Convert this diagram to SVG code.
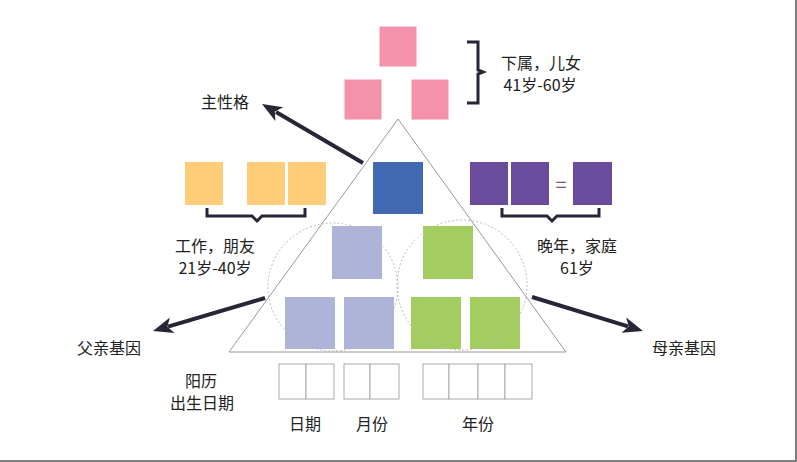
<svg xmlns="http://www.w3.org/2000/svg" width="797" height="462" viewBox="0 0 797 462">
<style>
.t{font-family:"Noto Sans CJK SC","Liberation Sans",sans-serif;font-size:16px;fill:#222;text-anchor:middle;dominant-baseline:central}
.pink{fill:#F392AA;stroke:#fff;stroke-width:1}
.yel{fill:#FFCD7A}
.pur{fill:#6A4C9C}
.lav{fill:#AEB4D8}
.grn{fill:#A3CD60}
.box{fill:#fff;stroke:#aaa;stroke-width:1}
.br{fill:none;stroke:#262636;stroke-width:3}
.arr{stroke:#262636;stroke-width:4;fill:none}
.head{fill:#262636}
</style>
<rect width="797" height="462" fill="#fff"/>
<path d="M796,0 V461 H0" fill="none" stroke="#555" stroke-width="1.5"/>

<g id="triangle"><path d="M398,119 L229,352 L566,352 Z" fill="none" stroke="#999" stroke-width="1"/></g>

<g id="pink">
<rect class="pink" x="379" y="26" width="38" height="41"/>
<rect class="pink" x="344" y="79" width="38" height="41"/>
<rect class="pink" x="411" y="79" width="38" height="41"/>
</g>
<g id="brace-top"><path class="br" d="M467,42 H478 V70 L483,72 L478,74 V103 H467"/></g>
<g id="label-top">
<text class="t" x="541" y="62">下属，儿女</text>
<text class="t" x="540" y="84">41岁-60岁</text>
</g>
<g id="label-main"><text class="t" x="225" y="101">主性格</text></g>

<g id="yellow">
<rect class="yel" x="185" y="162" width="38" height="43"/>
<rect class="yel" x="247" y="162" width="38" height="43"/>
<rect class="yel" x="288" y="162" width="38" height="43"/>
</g>
<g id="blue"><rect x="373" y="162" width="50" height="52" fill="#4169B1"/></g>
<g id="purple">
<rect class="pur" x="470" y="162" width="38" height="43"/>
<rect class="pur" x="511" y="162" width="38" height="43"/>
<text class="t" x="561" y="183" style="fill:#666;font-size:20px">=</text>
<rect class="pur" x="573" y="162" width="39" height="43"/>
</g>
<g id="brace-left"><path class="br" d="M207,208 V216 H252 L257,221 L262,216 H305 V208"/></g>
<g id="brace-right"><path class="br" d="M502,208 V216 H547 L552,221 L557,216 H599 V208"/></g>
<g id="label-left">
<text class="t" x="215" y="245">工作，朋友</text>
<text class="t" x="215" y="267">21岁-40岁</text>
</g>
<g id="label-right">
<text class="t" x="577" y="245">晚年，家庭</text>
<text class="t" x="577" y="267">61岁</text>
</g>

<g id="lavender">
<rect class="lav" x="332" y="226" width="50" height="53"/>
<rect class="lav" x="285" y="297" width="50" height="52"/>
<rect class="lav" x="344" y="297" width="50" height="52"/>
</g>
<g id="green">
<rect class="grn" x="423" y="226" width="50" height="53"/>
<rect class="grn" x="411" y="297" width="50" height="52"/>
<rect class="grn" x="470" y="297" width="50" height="52"/>
</g>
<g id="circles" fill="none" stroke="#bbb" stroke-width="1" stroke-dasharray="2,2">
<ellipse cx="333" cy="287" rx="65" ry="64"/>
<ellipse cx="462" cy="285" rx="65" ry="65"/>
</g>

<g id="connectors">
<line class="arr" x1="363" y1="163" x2="276" y2="112"/>
<polygon class="head" points="262,104 283.3,107.2 274.9,111.6 275.3,121"/>
<line class="arr" x1="265" y1="298" x2="168" y2="326.6"/>
<polygon class="head" points="153,331 169.9,317.6 167.4,326.8 174.5,333"/>
<line class="arr" x1="532" y1="297" x2="628" y2="326.4"/>
<polygon class="head" points="643,331 626.2,317.5 628.7,326.6 621.5,332.8"/>
</g>
<g id="label-father"><text class="t" x="109" y="347">父亲基因</text></g>
<g id="label-mother"><text class="t" x="684" y="347">母亲基因</text></g>

<g id="boxes">
<rect class="box" x="279" y="364" width="27" height="35"/>
<rect class="box" x="306" y="364" width="28" height="35"/>
<rect class="box" x="344" y="364" width="26" height="35"/>
<rect class="box" x="370" y="364" width="29" height="35"/>
<rect class="box" x="423" y="364" width="26" height="35"/>
<rect class="box" x="449" y="364" width="29" height="35"/>
<rect class="box" x="478" y="364" width="27" height="35"/>
<rect class="box" x="505" y="364" width="27" height="35"/>
</g>
<g id="label-date">
<text class="t" x="201" y="380">阳历</text>
<text class="t" x="202" y="402">出生日期</text>
<text class="t" x="305" y="423">日期</text>
<text class="t" x="372" y="423">月份</text>
<text class="t" x="478" y="423">年份</text>
</g>
</svg>
